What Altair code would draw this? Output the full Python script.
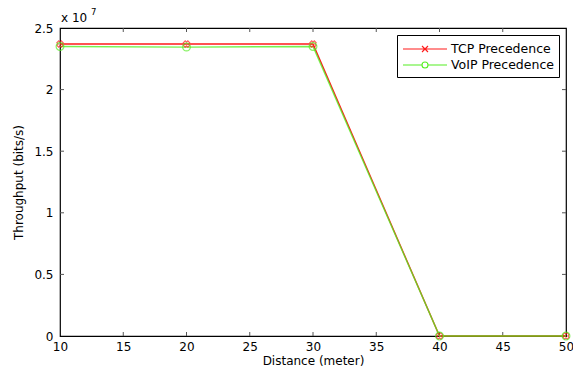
import altair as alt
import pandas as pd

distance = [10, 20, 30, 40, 50]
tcp = [2.37, 2.37, 2.37, 0.0, 0.0]      # x 10^7 bits/s
voip = [2.35, 2.345, 2.35, 0.0, 0.0]    # x 10^7 bits/s
series = ["TCP Precedence", "VoIP Precedence"]
colors = ["#ff1a1a", "#55ee22"]
x_ticks = [15, 20, 25, 30, 35, 40, 45]
y_ticks = [0.5, 1, 1.5, 2]

W, H = 506, 308
font = "DejaVu Sans"

rows = []
for d, t, v in zip(distance, tcp, voip):
    rows.append({"d": d, "y": t, "s": series[0]})
    rows.append({"d": d, "y": v, "s": series[1]})
df = pd.DataFrame(rows)

# legend glyphs: a short line with the marker in its middle (unit = 8px)
c, k = 1.75, 0.375
legend_shapes = [
    f"M-1,0L4.5,0M{c-k},-{k}L{c+k},{k}M{c-k},{k}L{c+k},-{k}",
    f"M-1,0L{c-k},0M{c+k},0L4.5,0M{c+k},0A{k},{k} 0 1,1 {c-k},0A{k},{k} 0 1,1 {c+k},0",
]

xs = alt.Scale(domain=[10, 50], nice=False)
ys = alt.Scale(domain=[0, 2.5], nice=False)

x = alt.X("d:Q", title="Distance (meter)", scale=xs,
          axis=alt.Axis(values=list(range(10, 51, 5)), grid=False, ticks=False,
                        labelFontSize=12, titleFontSize=12, titleFontWeight="normal",
                        titlePadding=3, labelPadding=5, labelFlush=False,
                        domain=False, labelColor="black", titleColor="black"))
y = alt.Y("y:Q", title="Throughput (bits/s)", scale=ys,
          axis=alt.Axis(values=[0, 0.5, 1, 1.5, 2, 2.5], grid=False, ticks=False,
                        labelFontSize=12, titleFontSize=12, titleFontWeight="normal",
                        titlePadding=8, labelPadding=7, labelExpr="format(datum.value, '~g')",
                        domain=False, labelColor="black", titleColor="black"))
color = alt.Color("s:N", scale=alt.Scale(domain=series, range=colors),
                  legend=alt.Legend(title=None, orient="top-right", offset=7,
                                    strokeColor="black", fillColor="white",
                                    padding=5, labelFontSize=12.5, labelFont=font,
                                    symbolSize=256, symbolStrokeWidth=1.1,
                                    symbolOpacity=1, labelOffset=31,
                                    rowPadding=0, labelColor="black"))
shape = alt.Shape("s:N", scale=alt.Scale(domain=series, range=legend_shapes))

legend_layer = alt.Chart(df).mark_point(filled=False).encode(
    x=x, y=y, color=color, shape=shape).transform_filter("false")

tcp_line = alt.Chart(df).transform_filter(alt.datum.s == series[0]).mark_line(
    strokeWidth=1.4, color=colors[0]).encode(x=x, y=y, order="d:Q")
voip_line = alt.Chart(df).transform_filter(alt.datum.s == series[1]).mark_line(
    strokeWidth=1.4, color=colors[1], opacity=0.8).encode(x=x, y=y, order="d:Q")
tcp_pts = alt.Chart(df).transform_filter(alt.datum.s == series[0]).mark_point(
    shape="cross", angle=45, filled=False, size=40, strokeWidth=1.2, color=colors[0]
).encode(x=x, y=y)
voip_pts = alt.Chart(df).transform_filter(alt.datum.s == series[1]).mark_point(
    shape="circle", filled=False, size=60, strokeWidth=1.2, color=colors[1]
).encode(x=x, y=y)

tick_color = "#555555"
xt = pd.DataFrame({"d": x_ticks})
yt = pd.DataFrame({"y": y_ticks})
ticks = [
    alt.Chart(xt).mark_rule(color=tick_color).encode(x=x, y=alt.value(H), y2=alt.value(H - 4)),
    alt.Chart(xt).mark_rule(color=tick_color).encode(x=x, y=alt.value(0), y2=alt.value(4)),
    alt.Chart(yt).mark_rule(color=tick_color).encode(y=y, x=alt.value(0), x2=alt.value(4)),
    alt.Chart(yt).mark_rule(color=tick_color).encode(y=y, x=alt.value(W), x2=alt.value(W - 4)),
]

note = alt.Chart(pd.DataFrame({"t": ["x 10"]})).mark_text(
    align="left", baseline="alphabetic", fontSize=12, font=font
).encode(x=alt.value(1), y=alt.value(-6), text="t:N")
sup = alt.Chart(pd.DataFrame({"t": ["7"]})).mark_text(
    align="left", baseline="alphabetic", fontSize=8.5, font=font
).encode(x=alt.value(31), y=alt.value(-13), text="t:N")

chart = alt.layer(legend_layer, *ticks, tcp_line, voip_line, tcp_pts, voip_pts,
                  note, sup).properties(
    width=W, height=H,
    autosize=alt.AutoSizeParams(type="none"),
    padding={"left": 52, "top": 20, "right": 7, "bottom": 34},
).configure(font=font).configure_view(stroke="black", strokeWidth=1.2)

chart.save("out.html", embed_options={"renderer": "svg", "actions": False})
